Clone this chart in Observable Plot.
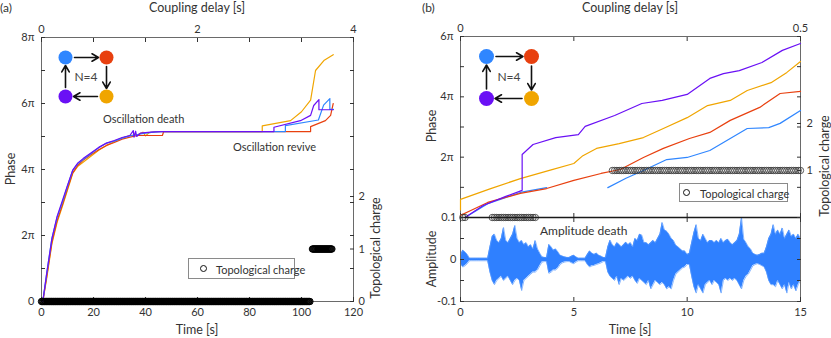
<!DOCTYPE html>
<html><head><meta charset="utf-8">
<script src="https://cdn.jsdelivr.net/npm/d3@7"></script>
<script src="https://cdn.jsdelivr.net/npm/@observablehq/plot@0.6"></script>
<style>
body{margin:0;background:#fff;}
#fig{position:relative;width:831px;height:338px;overflow:hidden;font-family:Lato,"Open Sans",sans-serif;color:#333;}
#fig svg{position:absolute;left:0;top:0;overflow:visible;}
.t{position:absolute;white-space:nowrap;line-height:1;}
.lg{position:absolute;border:1px solid #8a8a8a;background:#fff;box-sizing:border-box;font-size:11px;white-space:nowrap;}
.lg .c{position:absolute;width:5px;height:5px;border:1.3px solid #111;border-radius:50%;}
.lg .s{position:absolute;line-height:1;}
</style></head>
<body><div id="fig"></div>
<script>
// ---------- ticks / categories ----------
const timeTicksA = [0, 20, 40, 60, 80, 100, 120];
const phaseTicksA = [0, 1, 2, 3, 4, 5, 6, 7, 8];       // multiples of pi
const chargeTicksA = [0, 1, 2];
const delayTicksA = [0, 2, 4];
const timeTicksB = [0, 5, 10, 15];
const phaseTicksB = [0, 1, 2, 3, 4, 5, 6];
const chargeTicksB = [1, 2];
const delayTicksB = [0, 0.5];
const ampTicksB = [-0.1, -0.05, 0, 0.05, 0.1];
const oscillators = ["osc-blue", "osc-red", "osc-yellow", "osc-purple"];
const oscColors = ["#2f86ff", "#e8400f", "#f0a500", "#6a10f5"];

// ---------- panel (a): phase (in units of pi) vs time [s] ----------
const phaseA_yellow = [[0.5,0],[2,0.7],[4,1.75],[6,2.4],[8,2.88],[10,3.38],[12,3.88],[14,4.1],[16,4.22],[19,4.4],[22,4.58],[25,4.73],[28,4.84],[31,4.95],[34,5.03],[37,5.05],[39,5.13],[40,5.02],[41.5,5.12],[44,5.15],[84.9,5.15],[84.9,5.32],[95.8,5.48],[100,5.75],[103.5,6.1],[105.4,7.0],[108.6,7.3],[112.2,7.48]];
const phaseA_red = [[0.5,0],[2,0.75],[4,1.8],[6,2.45],[8,2.92],[10,3.42],[12,3.9],[14,4.13],[16,4.28],[19,4.45],[22,4.6],[25,4.73],[28,4.82],[31,4.92],[34,4.98],[37,5.03],[46.5,5.03],[47,5.15],[103.5,5.15],[103.5,5.3],[109.2,5.48],[111.2,5.64],[112.2,6.0]];
const phaseA_blue = [[0.5,0],[2,0.85],[4,1.92],[6,2.55],[8,3.0],[10,3.5],[12,3.97],[14,4.18],[16,4.3],[19,4.48],[22,4.66],[25,4.8],[28,4.86],[31,4.95],[34,5.02],[37,5.06],[40,5.1],[43,5.13],[46,5.15],[93.8,5.15],[93.8,5.33],[106.5,5.5],[108.5,5.95],[110.9,6.15],[110.9,5.82],[112.3,5.82]];
const phaseA_purple = [[0.5,0],[2,0.85],[4,1.9],[6,2.58],[8,3.05],[10,3.52],[12,3.98],[14,4.2],[16,4.33],[19,4.5],[22,4.67],[25,4.8],[28,4.88],[31,4.97],[34,5.03],[35.3,5.18],[35.6,4.98],[36.2,5.16],[36.6,5.0],[38,5.1],[42,5.13],[46,5.15],[89.4,5.15],[89.4,5.28],[99.6,5.48],[103.5,5.64],[104.7,5.94],[106.7,6.12],[106.7,5.81],[112.2,5.81]];
// topological charge runs: [start t, end t, charge]
const chargeRunsA = [[0, 103.4, 0], [104.2, 111.9, 1]];

// ---------- panel (b) ----------
const phaseB_yellow = [[0,0.25],[0,0.6],[1.3,0.95],[2.64,1.29],[4.0,1.58],[5.0,1.79],[5.4,2.05],[6.0,2.29],[7.0,2.45],[8.07,2.65],[8.95,2.95],[10,3.31],[10.9,3.71],[11.9,3.88],[12.65,4.21],[13.7,4.47],[14.4,4.81],[15,5.17]];
const phaseB_red = [[0,0.07],[0.5,0.25],[1.2,0.5],[2.64,0.8],[3.8,0.96],[5.0,1.23],[6.2,1.46],[7.05,1.59],[8.07,1.99],[8.95,2.29],[10.1,2.62],[11.0,2.82],[11.9,3.22],[13.2,3.65],[14.1,4.11],[15,4.18]];
const phaseB_blue1 = [[0.2,0],[1.2,0.46],[2.64,0.83],[3.8,0.99]];
const phaseB_blue2 = [[6.5,0.99],[7.3,1.3],[8.07,1.56],[9.1,1.92],[10,1.99],[11,2.22],[11.9,2.62],[12.65,2.95],[13.6,2.98],[14.1,3.12],[15,3.55]];
const phaseB_purple = [[0.2,0],[1,0.4],[2,0.7],[2.72,0.9],[2.72,2.09],[3.2,2.42],[4.2,2.65],[5.2,2.75],[5.5,3.02],[6.8,3.38],[8.0,3.78],[8.9,3.88],[10.0,4.08],[11.0,4.61],[11.6,4.77],[12.3,4.87],[13.3,5.14],[14.2,5.54],[15,5.77]];
const chargeRunsB = [[0.1, 0.2, 0], [1.4, 3.35, 0], [6.7, 15, 1]];

// amplitude envelope, sampled every 0.1 s from 0 to 15 s
const ampHi = [0.01,0.022,0.018,0.012,0.003,0.003,0.003,0.003,0.003,0.003,0.003,0.003,0.003,0.03,0.055,0.06,0.045,0.04,0.05,0.076,0.045,0.04,0.05,0.06,0.081,0.05,0.04,0.045,0.035,0.04,0.03,0.035,0.025,0.045,0.025,0.015,0.006,0.005,0.005,0.036,0.03,0.022,0.025,0.018,0.01,0.008,0.006,0.005,0.005,0.008,0.01,0.006,0.003,0.003,0.003,0.003,0.012,0.02,0.015,0.012,0.015,0.01,0.008,0.005,0.005,0.03,0.046,0.035,0.03,0.04,0.036,0.03,0.035,0.041,0.035,0.04,0.03,0.05,0.045,0.06,0.058,0.04,0.04,0.035,0.04,0.045,0.04,0.05,0.06,0.088,0.07,0.067,0.06,0.05,0.045,0.034,0.03,0.025,0.02,0.02,0.012,0.015,0.04,0.064,0.083,0.05,0.045,0.06,0.05,0.04,0.045,0.045,0.04,0.045,0.04,0.05,0.04,0.045,0.048,0.04,0.035,0.04,0.045,0.06,0.1,0.048,0.04,0.03,0.025,0.015,0.012,0.01,0.012,0.015,0.015,0.03,0.05,0.06,0.083,0.06,0.07,0.06,0.075,0.05,0.06,0.07,0.055,0.06,0.05,0.06,0.05];
const ampLo = [-0.01,-0.018,-0.015,-0.01,-0.003,-0.003,-0.003,-0.003,-0.003,-0.003,-0.003,-0.003,-0.003,-0.03,-0.05,-0.06,-0.05,-0.045,-0.04,-0.05,-0.045,-0.04,-0.05,-0.06,-0.05,-0.045,-0.05,-0.074,-0.05,-0.045,-0.04,-0.035,-0.03,-0.03,-0.025,-0.015,-0.006,-0.005,-0.005,-0.033,-0.03,-0.025,-0.025,-0.02,-0.012,-0.008,-0.006,-0.005,-0.005,-0.008,-0.01,-0.006,-0.003,-0.003,-0.003,-0.003,-0.012,-0.018,-0.015,-0.014,-0.012,-0.01,-0.008,-0.005,-0.005,-0.03,-0.04,-0.045,-0.05,-0.04,-0.06,-0.045,-0.05,-0.045,-0.04,-0.045,-0.04,-0.05,-0.057,-0.045,-0.05,-0.055,-0.06,-0.05,-0.07,-0.06,-0.05,-0.055,-0.06,-0.055,-0.06,-0.07,-0.065,-0.07,-0.05,-0.035,-0.03,-0.025,-0.02,-0.018,-0.012,-0.012,-0.04,-0.065,-0.08,-0.06,-0.07,-0.08,-0.06,-0.055,-0.05,-0.06,-0.05,-0.055,-0.06,-0.08,-0.05,-0.045,-0.05,-0.045,-0.05,-0.045,-0.05,-0.06,-0.07,-0.05,-0.04,-0.035,-0.025,-0.015,-0.012,-0.01,-0.012,-0.015,-0.018,-0.03,-0.05,-0.06,-0.06,-0.065,-0.05,-0.06,-0.07,-0.06,-0.08,-0.055,-0.07,-0.06,-0.075,-0.06,-0.05];

// ring network inset (unit square layout)
const ringNodes = [["osc-blue",0,1],["osc-red",1,1],["osc-yellow",1,0],["osc-purple",0,0]];
const ringEdges = [["osc-blue","osc-red"],["osc-red","osc-yellow"],["osc-yellow","osc-purple"],["osc-purple","osc-blue"]];

// ---------- build tables ----------
const toRows = (arr, osc, seg) => arr.map(([t, phi]) => ({t, phi, osc, seg: seg || osc}));
const linesA = [...toRows(phaseA_yellow,"osc-yellow"), ...toRows(phaseA_red,"osc-red"), ...toRows(phaseA_blue,"osc-blue"), ...toRows(phaseA_purple,"osc-purple")];
const linesB = [...toRows(phaseB_blue1,"osc-blue","b1"), ...toRows(phaseB_blue2,"osc-blue","b2"), ...toRows(phaseB_red,"osc-red"), ...toRows(phaseB_yellow,"osc-yellow"), ...toRows(phaseB_purple,"osc-purple")];
const runsToDots = (runs, step) => runs.flatMap(([a, b, q]) => d3.range(a, b + 1e-9, step).map(t => ({t, q})));
const chargeA = runsToDots(chargeRunsA, 0.25);
const chargeB = runsToDots(chargeRunsB, 0.1);
const amp = ampHi.map((hi, i) => ({t: i / 10, hi, lo: ampLo[i]}));
const nodePos = Object.fromEntries(ringNodes.map(([k, x, y]) => [k, {x, y}]));
const nodes = ringNodes.map(([osc, x, y]) => ({osc, x, y}));
const edges = ringEdges.map(([a, b]) => ({x1: nodePos[a].x, y1: nodePos[a].y, x2: nodePos[b].x, y2: nodePos[b].y}));

// ---------- helpers ----------
const W = 831, H = 338;
const fig = document.getElementById("fig");
const piFmt = d => d === 0 ? "0" : (d % 2 ? "" : d + "π");
const plain = d => String(d);
function mk(box, x, y, marks) {
  const svg = Plot.plot({
    width: W, height: H,
    marginLeft: box[0], marginTop: box[1], marginRight: W - box[2], marginBottom: H - box[3],
    x, y,
    color: {type: "ordinal", domain: oscillators, range: oscColors},
    style: {background: "transparent", fontFamily: "Lato, 'Open Sans', sans-serif", fontSize: "11px", color: "#333", overflow: "visible"},
    marks
  });
  fig.appendChild(svg);
}
function txt(s, x, y, size, rot, align) {
  const d = document.createElement("div");
  d.className = "t"; d.textContent = s;
  d.style.left = x + "px"; d.style.top = y + "px"; d.style.fontSize = size + "px";
  d.style.transform = `translate(${align === "start" ? "0" : "-50%"},-50%)` + (rot ? " rotate(-90deg)" : "");
  fig.appendChild(d);
}
function legend(x, y, w, h, cx, tx) {
  const d = document.createElement("div");
  d.className = "lg";
  Object.assign(d.style, {left: x + "px", top: y + "px", width: w + "px", height: h + "px"});
  d.innerHTML = `<span class="c" style="left:${cx - x - 4.5}px;top:${h / 2 - 4.5}px"></span><span class="s" style="left:${tx - x}px;top:${h / 2 - 6}px">Topological charge</span>`;
  fig.appendChild(d);
}
const none = () => "";

// ---------- panel (a) ----------
const boxA = [41, 37, 353, 301];
mk(boxA, {domain: [0, 120]}, {domain: [0, 8]}, [
  Plot.frame({stroke: "#6a6a6a"}),
  Plot.axisX({ticks: timeTicksA, anchor: "bottom", tickSize: -4, tickPadding: 11, tickFormat: plain, label: null}),
  Plot.axisX({ticks: timeTicksA, anchor: "top", tickSize: -4, tickFormat: none, label: null}),
  Plot.axisY({ticks: phaseTicksA, anchor: "left", tickSize: -4, tickPadding: 11, tickFormat: piFmt, label: null}),
  Plot.axisY({ticks: phaseTicksA, anchor: "right", tickSize: -4, tickFormat: none, label: null}),
  Plot.line(linesA, {x: "t", y: "phi", z: "seg", stroke: "osc", strokeWidth: 1.2})
]);
mk(boxA, {domain: [0, 120], axis: null}, {domain: [0, 5.03]}, [
  Plot.axisY({ticks: chargeTicksA, anchor: "right", tickSize: -4, tickPadding: 9, tickFormat: plain, label: null}),
  Plot.dot(chargeA, {x: "t", y: "q", r: 3.2, stroke: "#000", strokeWidth: 1, fill: "none"})
]);
mk(boxA, {domain: [0, 4]}, {domain: [0, 1], axis: null}, [
  Plot.axisX({ticks: delayTicksA, anchor: "top", tickSize: 0, tickPadding: 5, tickFormat: plain, label: null})
]);
mk([65, 57, 106, 96], {domain: [0, 1], axis: null}, {domain: [0, 1], axis: null}, [
  Plot.arrow(edges, {x1: "x1", y1: "y1", x2: "x2", y2: "y2", stroke: "#111", strokeWidth: 1.6, insetStart: 9, insetEnd: 8, headLength: 7}),
  Plot.dot(nodes, {x: "x", y: "y", r: 7, fill: "osc"}),
  Plot.text(["N=4"], {x: [0.5], y: [0.5], fontSize: 12, fill: "#444"})
]);
txt("(a)", 0, 8, 12, false, "start");
txt("Coupling delay [s]", 197, 8, 12.5);
txt("Time [s]", 197, 330, 12.5);
txt("Phase", 11, 169, 12.5, true);
txt("Topological charge", 376, 248, 12.5, true);
txt("Oscillation death", 103, 118, 11, false, "start");
txt("Oscillation revive", 233, 146, 11, false, "start");
legend(188, 258, 107, 21, 203, 215);

// ---------- panel (b) ----------
const boxB = [460, 36, 800, 217];
const boxB2 = [460, 217, 800, 301];
mk(boxB, {domain: [0, 15]}, {domain: [0, 6]}, [
  Plot.frame({stroke: "#6a6a6a"}),
  Plot.axisX({ticks: timeTicksB, anchor: "top", tickSize: -4, tickFormat: none, label: null}),
  Plot.axisX({ticks: timeTicksB, anchor: "bottom", tickSize: -4, tickFormat: none, label: null}),
  Plot.axisY({ticks: phaseTicksB, anchor: "left", tickSize: -4, tickPadding: 11, tickFormat: d => d === 0 ? "" : piFmt(d), label: null}),
  Plot.axisY({ticks: phaseTicksB, anchor: "right", tickSize: -4, tickFormat: none, label: null}),
  Plot.line(linesB, {x: "t", y: "phi", z: "seg", stroke: "osc", strokeWidth: 1.2})
]);
mk(boxB, {domain: [0, 15], axis: null}, {domain: [0, 3.85]}, [
  Plot.axisY({ticks: chargeTicksB, anchor: "right", tickSize: -4, tickPadding: 10, tickFormat: plain, label: null}),
  Plot.dot(chargeB, {x: "t", y: "q", r: 3.2, stroke: "#333", strokeWidth: 0.8, fill: "none"})
]);
mk(boxB2, {domain: [0, 15]}, {domain: [-0.1, 0.1]}, [
  Plot.areaY(amp, {x: "t", y1: "lo", y2: "hi", fill: "#2f80ff"}),
  Plot.line(amp, {x: "t", y: "hi", stroke: "#5c9cff", strokeWidth: 0.7}),
  Plot.line(amp, {x: "t", y: "lo", stroke: "#5c9cff", strokeWidth: 0.7}),
  Plot.frame({stroke: "#6a6a6a"}),
  Plot.ruleY([0.1], {stroke: "#1a1a1a", strokeWidth: 1.4}),
  Plot.axisX({ticks: timeTicksB, anchor: "bottom", tickSize: -4, tickPadding: 11, tickFormat: plain, label: null}),
  Plot.axisX({ticks: timeTicksB, anchor: "top", tickSize: -4, tickFormat: none, label: null}),
  Plot.axisY({ticks: ampTicksB, anchor: "left", tickSize: -4, tickPadding: 8, tickFormat: d => d === 0.1 ? "0.1" : d === -0.1 ? "-0.1" : d === 0 ? "0" : "", label: null}),
  Plot.axisY({ticks: ampTicksB, anchor: "right", tickSize: -4, tickFormat: none, label: null})
]);
mk(boxB, {domain: [0, 0.5]}, {domain: [0, 1], axis: null}, [
  Plot.axisX({ticks: delayTicksB, anchor: "top", tickSize: 0, tickPadding: 5, tickFormat: plain, label: null})
]);
mk([486, 56, 531, 98], {domain: [0, 1], axis: null}, {domain: [0, 1], axis: null}, [
  Plot.arrow(edges, {x1: "x1", y1: "y1", x2: "x2", y2: "y2", stroke: "#111", strokeWidth: 1.6, insetStart: 9.5, insetEnd: 8.5, headLength: 7}),
  Plot.dot(nodes, {x: "x", y: "y", r: 7.5, fill: "osc"}),
  Plot.text(["N=4"], {x: [0.5], y: [0.5], fontSize: 12, fill: "#444"})
]);
txt("(b)", 422, 8, 12, false, "start");
txt("Coupling delay [s]", 630, 8, 12.5);
txt("Time [s]", 630, 330, 12.5);
txt("Phase", 432, 126, 12.5, true);
txt("Amplitude", 432, 259, 12.5, true);
txt("Topological charge", 825, 166, 12.5, true);
txt("Amplitude death", 540, 231, 12, false, "start");
legend(679, 183, 109, 19, 686, 699);
</script></body></html>
